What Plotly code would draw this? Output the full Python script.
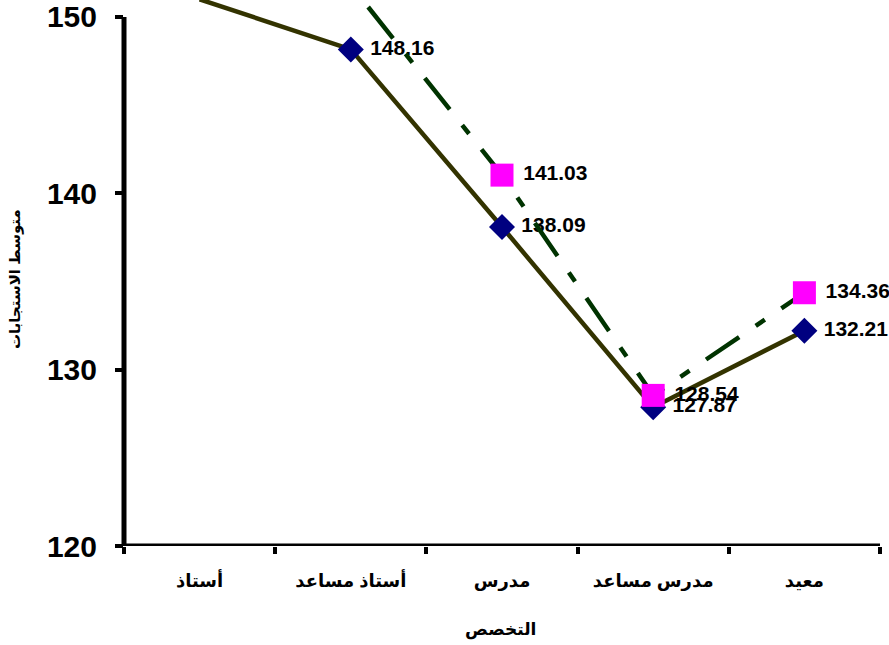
import plotly.graph_objects as go

# Academic rank categories (x axis)
categories = ["أستاذ", "أستاذ مساعد", "مدرس", "مدرس مساعد", "معيد"]

# Mean responses per rank for the two groups
series_a = [151.0, 148.16, 138.09, 127.87, 132.21]
series_b = [153.5, 151.8, 141.03, 128.54, 134.36]

y_ticks = [120, 130, 140, 150]
AXIS_MIN, AXIS_MAX = 120, 150
VIEW_TOP = 150.96  # lines run slightly past the top tick, as in the drawn axis frame

BOLD_NUM = "Liberation Sans, Arial, sans-serif"
BOLD_AR = "Liberation Sans, Arial, DejaVu Sans, sans-serif"


def visible(vals):
    xs, ys, ts = [], [], []
    for c, v in zip(categories, vals):
        if v <= AXIS_MAX:
            xs.append(c)
            ys.append(v)
            ts.append(f" {v:.2f}")
    return xs, ys, ts


fig = go.Figure()

# Series A: solid olive line with navy diamonds
fig.add_trace(go.Scatter(
    x=categories, y=series_a, mode="lines",
    line=dict(color="#333300", width=4.5),
    hoverinfo="skip", showlegend=False,
))
xa, ya, ta = visible(series_a)
fig.add_trace(go.Scatter(
    x=xa, y=ya, text=ta, mode="markers+text",
    marker=dict(symbol="diamond", size=20, color="#000080"),
    textposition="middle right", cliponaxis=False,
    textfont=dict(family=BOLD_NUM, size=21, color="black", weight="bold"),
    showlegend=False,
))

# Series B: dash-dot dark green line with magenta squares
fig.add_trace(go.Scatter(
    x=categories, y=series_b, mode="lines",
    line=dict(color="#003300", width=4.5, dash="40px,20px,11px,20px"),
    hoverinfo="skip", showlegend=False,
))
xb, yb, tb = visible(series_b)
fig.add_trace(go.Scatter(
    x=xb, y=yb, text=tb, mode="markers+text",
    marker=dict(symbol="square", size=23, color="#FF00FF"),
    textposition="middle right", cliponaxis=False,
    textfont=dict(family=BOLD_NUM, size=21, color="black", weight="bold"),
    showlegend=False,
))

# Axis frame lines
fig.add_shape(type="line", xref="paper", yref="y", x0=0, x1=0,
              y0=AXIS_MIN, y1=AXIS_MAX, line=dict(color="black", width=5))
fig.add_shape(type="line", xref="paper", yref="y", x0=0, x1=1,
              y0=AXIS_MIN, y1=AXIS_MIN, line=dict(color="black", width=5))

fig.update_layout(
    width=889, height=645,
    margin=dict(l=124, r=9, t=0, b=99),
    plot_bgcolor="white", paper_bgcolor="white",
    showlegend=False,
    xaxis=dict(
        type="category", categoryorder="array", categoryarray=categories,
        range=[-0.5, len(categories) - 0.5],
        showgrid=False, zeroline=False, showline=False,
        ticks="outside", tickson="boundaries", ticklen=7, tickwidth=4,
        tickcolor="black",
        tickfont=dict(family=BOLD_AR, size=18, color="black", weight="bold"),
        ticklabelstandoff=22,
    ),
    yaxis=dict(
        range=[AXIS_MIN, VIEW_TOP],
        tickvals=y_ticks, ticktext=[str(t) for t in y_ticks],
        showgrid=False, zeroline=False, showline=False,
        ticks="outside", ticklen=8, tickwidth=4, tickcolor="black",
        tickfont=dict(family=BOLD_NUM, size=30, color="black", weight="bold"),
        ticklabelstandoff=12,
    ),
    annotations=[
        dict(text="التخصص", xref="paper", yref="paper", x=(500 - 124) / 756,
             y=-(630 - 546) / 546, showarrow=False, xanchor="center", yanchor="middle",
             font=dict(family=BOLD_AR, size=17, color="black", weight="bold")),
        dict(text="متوسط الاستجابات", xref="paper", yref="paper",
             x=-(124 - 15) / 756, y=(546 - 279) / 546, textangle=-90,
             showarrow=False, xanchor="center", yanchor="middle",
             font=dict(family=BOLD_AR, size=15, color="black", weight="bold")),
    ],
)

fig.write_html("out.html")
